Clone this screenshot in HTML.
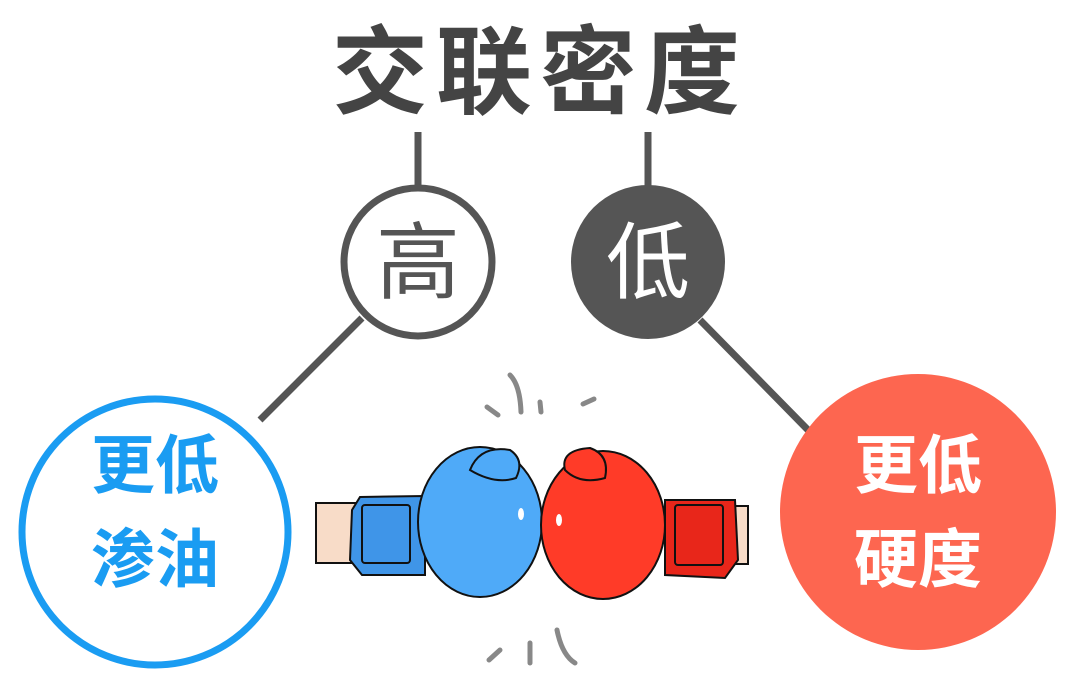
<!DOCTYPE html>
<html><head><meta charset="utf-8"><style>
html,body{margin:0;padding:0;background:#fff;width:1080px;height:696px;overflow:hidden}
svg{display:block}
</style></head><body>
<svg width="1080" height="696" viewBox="0 0 1080 696" xmlns="http://www.w3.org/2000/svg">
<text x="540" y="106" text-anchor="middle" font-family="'Liberation Sans','Noto Sans CJK SC',sans-serif" font-weight="bold" font-size="96" fill="#444" letter-spacing="8">交联密度</text>
<g stroke="#555" stroke-width="7" fill="none">
<line x1="418" y1="132" x2="418" y2="188"/>
<line x1="648" y1="132" x2="648" y2="188"/>
<line x1="362" y1="318" x2="260" y2="420"/>
<line x1="700" y1="320" x2="808" y2="430"/>
</g>
<circle cx="418" cy="262" r="74" fill="#fff" stroke="#555" stroke-width="7"/>
<circle cx="648" cy="262" r="77" fill="#555"/>
<text x="418" y="292" text-anchor="middle" font-family="'Liberation Sans','Noto Sans CJK SC',sans-serif" font-size="84" fill="#555">高</text>
<text x="648" y="292" text-anchor="middle" font-family="'Liberation Sans','Noto Sans CJK SC',sans-serif" font-size="84" fill="#fff">低</text>
<circle cx="155" cy="532" r="133" fill="#fff" stroke="#1a9cf2" stroke-width="7"/>
<circle cx="918" cy="512" r="138" fill="#fd6650"/>
<g font-family="'Liberation Sans','Noto Sans CJK SC',sans-serif" font-weight="bold" font-size="64" text-anchor="middle">
<text x="155" y="488" fill="#1a9cf2">更低</text>
<text x="155" y="582" fill="#1a9cf2">渗油</text>
<text x="918" y="488" fill="#fff">更低</text>
<text x="918" y="582" fill="#fff">硬度</text>
</g>
<g stroke="#111" stroke-width="2">
<rect x="316" y="503" width="42" height="60" fill="#f8dcc8"/>
<path d="M360 497 L425 496 L425 575 L362 575 L350 560 L352 510 Z" fill="#3f95e8"/>
<rect x="362" y="505" width="48" height="58" fill="none" rx="3"/>
<ellipse cx="480" cy="522" rx="62" ry="75" fill="#4faaf8"/>
<path d="M470 470 Q480 445 510 450 Q525 460 516 478 Q495 485 470 470Z" fill="#4faaf8"/>
<rect x="734" y="506" width="14" height="58" fill="#f8dcc8"/>
<path d="M665 500 L735 500 L738 560 L725 578 L665 575 Z" fill="#e8261a"/>
<rect x="675" y="505" width="48" height="60" fill="none" rx="3"/>
<ellipse cx="603" cy="525" rx="62" ry="74" fill="#ff3b28"/>
<path d="M565 470 Q560 450 590 448 Q610 455 605 478 Q580 485 565 470Z" fill="#ff3b28"/>
</g>
<g fill="#fff"><ellipse cx="521" cy="514" rx="3" ry="6"/><ellipse cx="559" cy="520" rx="3" ry="6"/></g>
<g stroke="#888" stroke-width="5" stroke-linecap="round" fill="none">
<path d="M510 375 Q520 385 521 412"/><path d="M487 407 L498 415"/><path d="M540 402 L541 412"/><path d="M583 404 L594 399"/>
<path d="M500 650 L489 660"/><path d="M530 643 L530 663"/><path d="M557 630 Q562 655 575 663"/>
</g>
</svg>
</body></html>
